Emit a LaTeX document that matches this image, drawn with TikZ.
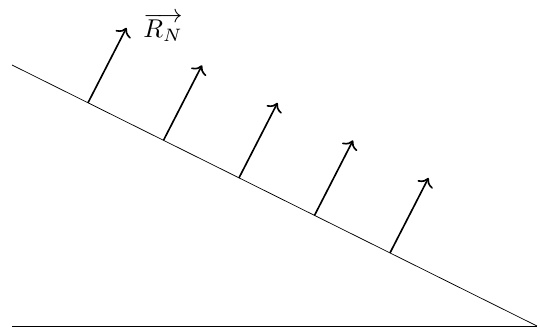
\documentclass[tikz,border=0pt]{standalone}
\usetikzlibrary{calc,arrows.meta}
\begin{document}
\begin{tikzpicture}[x=0.552pt,y=-0.552pt,
  force/.style={line width=0.9pt,-{To[scale=1.25]}}]
\useasboundingbox (0,0) rectangle (540,330);
\coordinate (g1) at (12,326);
\coordinate (g2) at (537,326);
\coordinate (s1) at (12,65);
\draw (g1) -- (g2);
\draw (s1) -- (g2);
\foreach \i/\x in {1/88,2/163.5,3/239,4/314.5,5/390}{
  \coordinate (b\i) at ($(s1)!{(\x-12)/525}!(g2)$);
  \coordinate (t\i) at ($(b\i)+(38.5,-75)$);
  \draw[force] (b\i) -- (t\i);
}
\node[scale=1.42] (lbl) at (163,27) {$\overrightarrow{R_N}$};
\end{tikzpicture}
\end{document}
